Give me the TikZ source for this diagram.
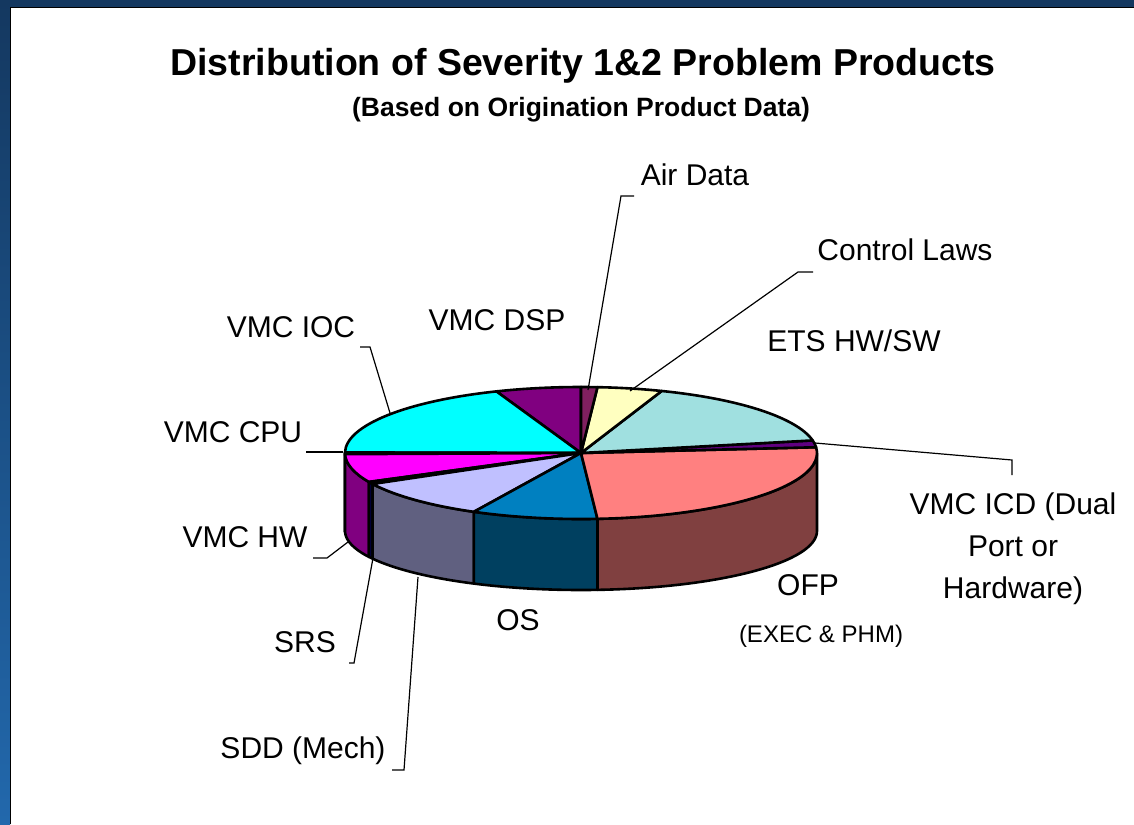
\documentclass[tikz,border=0pt]{standalone}
\usepackage{fontspec}
\setmainfont{Liberation Sans}
\usetikzlibrary{calc}
\definecolor{frametop}{HTML}{143860}
\definecolor{framebot}{HTML}{2268AC}
\definecolor{dsp}{HTML}{800080}
\definecolor{air}{HTML}{802060}
\definecolor{ctl}{HTML}{FFFFC0}
\definecolor{ets}{HTML}{A0E0E0}
\definecolor{icd}{HTML}{600080}
\definecolor{ofp}{HTML}{FF8080}
\definecolor{ofpside}{HTML}{804040}
\definecolor{os}{HTML}{0080C0}
\definecolor{osside}{HTML}{004060}
\definecolor{sdd}{HTML}{C0C0FF}
\definecolor{sddside}{HTML}{606080}
\definecolor{srs}{HTML}{000080}
\definecolor{srsside}{HTML}{000040}
\definecolor{hw}{HTML}{FF00FF}
\definecolor{hwside}{HTML}{800080}
\definecolor{cpu}{HTML}{C8C800}
\definecolor{cpuside}{HTML}{808000}
\definecolor{ioc}{HTML}{00FFFF}
\begin{document}
\begin{tikzpicture}[x=1pt,y=1pt,
  pieedge/.style={draw=black,line width=2.6pt,line join=round},
  leader/.style={draw=black,line width=1.2pt},
  lbl/.style={anchor=base,inner sep=0pt,font=\fontsize{30}{42}\selectfont}]
\useasboundingbox (0,0) rectangle (1134,-824);
\fill[white] (0,0) rectangle (1134,-824);
\shade[top color=frametop,bottom color=framebot] (0,0) rectangle (10,-824);
\fill[frametop] (0,0) rectangle (1134,-7);
\draw[line width=1.5pt] (10.7,-824) -- (10.7,-7.7) -- (1134,-7.7);

\node[anchor=base,inner sep=0pt,font=\fontsize{37.5}{44}\selectfont\bfseries] (title) at (583,-76) {Distribution of Severity 1\&2 Problem Products};
\node[anchor=base,inner sep=0pt,font=\fontsize{26.5}{32}\selectfont\bfseries] (subtitle) at (581,-117) {(Based on Origination Product Data)};

\coordinate (O) at (581,-453);
\coordinate (B) at (581,-531);
\foreach \a/\b/\col in {180/181/cpuside,181/206/hwside,206/208/srsside,208/243/sddside,243/274/osside,274/360/ofpside}
  \filldraw[pieedge,fill=\col] (O) ++(\a:236 and 66) arc[start angle=\a,end angle=\b,x radius=236,y radius=66]
    -- ($(B)+(\b:236 and 59)$) arc[start angle=\b,end angle=\a,x radius=236,y radius=59] -- cycle;
\foreach \a/\b/\col in {90/111/dsp,111/179.5/ioc,179.5/181/cpu,181/206/hw,206/208/srs,208/243/sdd,243/274/os,274/365/ofp,5/11/icd,11/70/ets,70/86/ctl,86/90/air}
  \filldraw[pieedge,fill=\col] (O) -- ++(\a:236 and 66) arc[start angle=\a,end angle=\b,x radius=236,y radius=66] -- cycle;

\node[lbl] (airdata) at (695,-185) {Air Data};
\node[lbl] (ctllaws) at (905,-260) {Control Laws};
\node[lbl] (etshwsw) at (854,-351) {ETS HW/SW};
\node[lbl,align=center] (vmcicd) at (1013,-598) {VMC ICD (Dual\\Port or\\Hardware)};
\node[lbl] (ofplbl) at (808,-595) {OFP};
\node[lbl,font=\fontsize{24}{30}\selectfont] (exec) at (821,-642) {(EXEC \& PHM)};
\node[lbl] (oslbl) at (518,-630) {OS};
\node[lbl] (vmcdsp) at (497,-330) {VMC DSP};
\node[lbl] (vmcioc) at (291,-337) {VMC IOC};
\node[lbl] (vmccpu) at (233,-442) {VMC CPU};
\node[lbl] (vmchw) at (245,-547) {VMC HW};
\node[lbl] (srslbl) at (305,-652) {SRS};
\node[lbl] (sddlbl) at (303,-758) {SDD (Mech)};

\coordinate (air-e) at (634,-196); \coordinate (air-p) at (588,-390);
\coordinate (ctl-e) at (813,-272); \coordinate (ctl-p) at (630,-391);
\coordinate (icd-e) at (1012,-475); \coordinate (icd-p) at (815,-443);
\coordinate (ioc-e) at (360,-347); \coordinate (ioc-p) at (390,-413);
\coordinate (cpu-e) at (306,-452); \coordinate (cpu-p) at (343,-452);
\coordinate (hw-e) at (313,-558); \coordinate (hw-p) at (348,-542);
\coordinate (srs-e) at (349,-663); \coordinate (srs-p) at (373,-558);
\coordinate (sdd-e) at (392,-770); \coordinate (sdd-p) at (418,-577);
\draw[leader] (air-e) -- ++(-13,0) -- (air-p);
\draw[leader] (ctl-e) -- ++(-15,0) -- (ctl-p);
\draw[leader] (icd-e) -- ++(0,15) -- (icd-p);
\draw[leader] (ioc-e) -- ++(10,0) -- (ioc-p);
\draw[leader] (cpu-e) -- (cpu-p);
\draw[leader] (hw-e) -- ++(14,0) -- (hw-p);
\draw[leader] (srs-e) -- ++(5,0) -- (srs-p);
\draw[leader] (sdd-e) -- ++(12,0) -- (sdd-p);
\end{tikzpicture}
\end{document}
